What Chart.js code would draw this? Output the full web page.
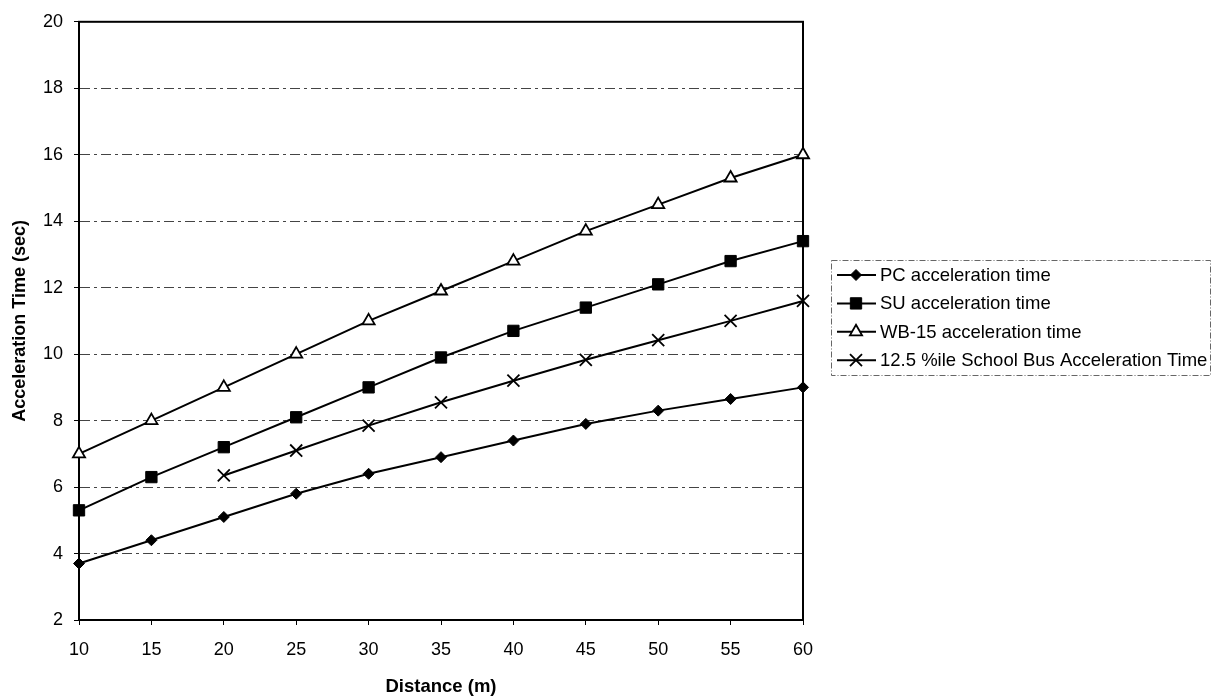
<!DOCTYPE html>
<html>
<head>
<meta charset="utf-8">
<style>
  html, body { margin: 0; padding: 0; background: #ffffff; }
  #wrap { position: relative; width: 1214px; height: 698px; }
</style>
<script src="https://cdn.jsdelivr.net/npm/chart.js@4/dist/chart.umd.min.js"></script>
</head>
<body>
<div id="wrap"><canvas id="c" width="1214" height="698"></canvas></div>
<script>
// ---- data ----
const distances = [10, 15, 20, 25, 30, 35, 40, 45, 50, 55, 60];
const pcTime    = [3.7, 4.4, 5.1, 5.8, 6.4, 6.9, 7.4, 7.9, 8.3, 8.65, 9.0];
const suTime    = [5.3, 6.3, 7.2, 8.1, 9.0, 9.9, 10.7, 11.4, 12.1, 12.8, 13.4];
const wb15Time  = [7.0, 8.0, 9.0, 10.0, 11.0, 11.9, 12.8, 13.7, 14.5, 15.3, 16.0];
const busTime   = [null, null, 6.35, 7.1, 7.85, 8.55, 9.2, 9.83, 10.42, 11.0, 11.6];
const seriesNames = [
  'PC acceleration time',
  'SU acceleration time',
  'WB-15 acceleration time',
  '12.5 %ile School Bus Acceleration Time'
];
const xTitle = 'Distance (m)';
const yTitle = 'Acceleration Time (sec)';

function pts(arr) {
  return distances.map((d, i) => ({ x: d, y: arr[i] })).filter(p => p.y !== null);
}

const FONT = "'Liberation Sans', Arial, sans-serif";

const styles = [
  { pointStyle: 'rectRot', pointRadius: 5.5, bg: '#000', bw: 1 },
  { pointStyle: 'rect', pointRadius: 8, bg: '#000', bw: 1 },
  { pointStyle: 'triangle', pointRadius: 7, bg: '#fff', bw: 1.8 },
  { pointStyle: 'crossRot', pointRadius: 8.5, bg: '#000', bw: 1.8 }
];
const seriesData = [pcTime, suTime, wb15Time, busTime];

const datasets = seriesData.map((arr, i) => ({
  label: seriesNames[i],
  data: pts(arr),
  borderColor: '#000',
  borderWidth: 2,
  backgroundColor: styles[i].bg,
  pointStyle: styles[i].pointStyle,
  pointRadius: styles[i].pointRadius,
  pointBackgroundColor: styles[i].bg,
  pointBorderColor: '#000',
  pointBorderWidth: styles[i].bw,
  tension: 0,
  clip: false
}));

// frame (top & right border) plugin
const framePlugin = {
  id: 'frame',
  beforeDatasetsDraw(chart) {
    const { ctx, chartArea: a } = chart;
    ctx.save();
    ctx.strokeStyle = '#000';
    ctx.lineWidth = 2;
    ctx.strokeRect(a.left, a.top, a.right - a.left, a.bottom - a.top);
    ctx.restore();
  }
};

// legend drawn in its own box
function drawMarker(ctx, ds, x, y) {
  ctx.save();
  ctx.fillStyle = ds.pointBackgroundColor;
  ctx.strokeStyle = '#000';
  ctx.lineWidth = ds.pointBorderWidth;
  Chart.helpers.drawPoint(ctx, {
    pointStyle: ds.pointStyle,
    radius: ds.pointRadius,
    borderWidth: ds.pointBorderWidth,
    rotation: 0
  }, x, y);
  ctx.restore();
}

const legendPlugin = {
  id: 'boxLegend',
  afterDraw(chart) {
    const ctx = chart.ctx;
    const box = { x: 831, y: 260, w: 379, h: 115 };
    ctx.save();
    ctx.strokeStyle = '#666';
    ctx.lineWidth = 1;
    ctx.setLineDash([6, 2, 1, 2]);
    ctx.strokeRect(box.x + 0.5, box.y + 0.5, box.w, box.h);
    ctx.setLineDash([]);
    const y0 = 275, step = 28.4;
    chart.data.datasets.forEach((ds, i) => {
      const y = y0 + i * step;
      ctx.strokeStyle = '#000';
      ctx.lineWidth = 2;
      ctx.beginPath();
      ctx.moveTo(837, y);
      ctx.lineTo(876, y);
      ctx.stroke();
      drawMarker(ctx, ds, 856, y);
      ctx.fillStyle = '#000';
      ctx.font = '18.5px ' + FONT;
      ctx.textBaseline = 'middle';
      ctx.textAlign = 'left';
      ctx.fillText(ds.label, 880, y + 1);
    });
    ctx.restore();
  }
};

new Chart(document.getElementById('c'), {
  type: 'line',
  data: { datasets },
  plugins: [framePlugin, legendPlugin],
  options: {
    responsive: false,
    animation: false,
    events: [],
    layout: { padding: { left: 0, top: 17, right: 411, bottom: 0 } },
    plugins: { legend: { display: false }, tooltip: { enabled: false } },
    scales: {
      x: {
        type: 'linear',
        min: 10, max: 60,
        afterFit(s) { s.height = 78; },
        ticks: { stepSize: 5, color: '#000', font: { family: FONT, size: 18 }, padding: 14, maxRotation: 0 },
        grid: { drawOnChartArea: false, drawTicks: true, tickLength: 5, tickColor: '#000', color: '#000' },
        border: { display: true, color: '#000', width: 2 },
        title: { display: true, text: xTitle, color: '#000', font: { family: FONT, size: 18.5, weight: 'bold' }, padding: { top: 0, bottom: 0 } }
      },
      y: {
        min: 2, max: 20,
        afterFit(s) { s.width = 79; },
        ticks: { stepSize: 2, color: '#000', font: { family: FONT, size: 18 }, padding: 11 },
        grid: { color: '#444', lineWidth: 1, drawTicks: true, tickLength: 5, tickColor: '#000', tickBorderDash: [] },
        border: { display: true, color: '#000', width: 2, dash: [10, 4, 3, 4] },
        title: { display: true, text: yTitle, color: '#000', font: { family: FONT, size: 18, weight: 'bold' }, padding: { top: 9, bottom: 0 } }
      }
    }
  }
});
</script>
</body>
</html>
